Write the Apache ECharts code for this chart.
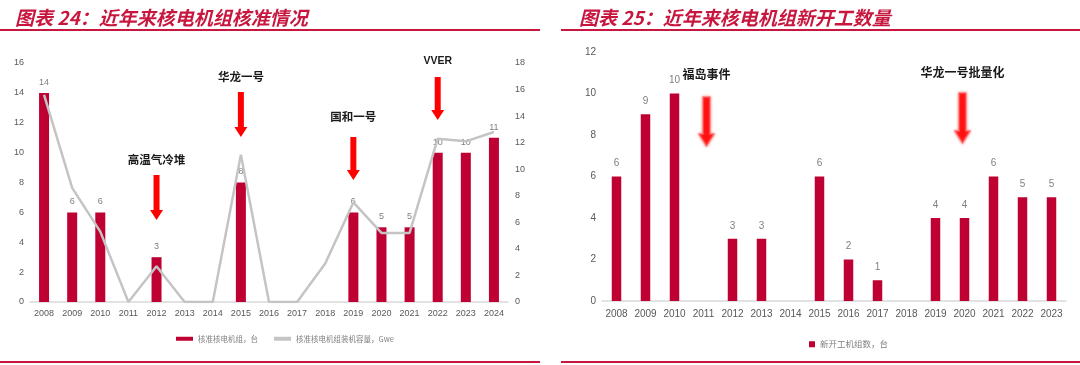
<!DOCTYPE html>
<html>
<head>
<meta charset="utf-8">
<script src="https://cdn.jsdelivr.net/npm/echarts@6/dist/echarts.min.js"></script>
<style>
html,body{margin:0;padding:0;background:#fff;}
#c{width:1080px;height:365px;}
</style>
</head>
<body>
<div id="c"></div>
<script>
// ---- data ----
const yearsApproved = ['2008','2009','2010','2011','2012','2013','2014','2015','2016','2017','2018','2019','2020','2021','2022','2023','2024'];
const approvedUnits = [14,6,6,0,3,0,0,8,0,0,0,6,5,5,10,10,11];
const approvedCapacity = [15.6,8.6,5.3,0,2.7,0,0,11.1,0,0,2.9,7.5,5.2,5.2,12.3,12.1,12.8];
const yearsStarts = ['2008','2009','2010','2011','2012','2013','2014','2015','2016','2017','2018','2019','2020','2021','2022','2023'];
const newStarts = [6,9,10,0,3,3,0,6,2,1,0,4,4,6,5,5];
const title1 = '图表 24：近年来核电机组核准情况';
const title2 = '图表 25：近年来核电机组新开工数量';
const legendBar1 = '核准核电机组，台';
const legendLine1 = '核准核电机组装机容量，Gwe';
const legendBar2 = '新开工机组数，台';
const notesLeftCats = ['2012','2015','2019','2022'];
const notesLeftTexts = ['高温气冷堆','华龙一号','国和一号','VVER'];
const notesRightCats = ['2011','2020'];
const notesRightTexts = ['福岛事件','华龙一号批量化'];

const RED = '#bf0033';
const TITLE_RED = '#c8173f';
const GRAY_TXT = '#595959';
const NARROW = '"Liberation Sans Narrow", "Liberation Sans", Arial, sans-serif';
const CJK = '"Noto Sans CJK SC", sans-serif';

const chart = echarts.init(document.getElementById('c'), null, {renderer:'canvas'});

const hideZero = p => (p.value ? String(p.value) : '');

const option = {
  animation: false,
  backgroundColor: '#fff',
  title: [
    {text: title1, left: 10, top: 3, textStyle:{color: TITLE_RED, fontSize: 19, fontWeight:'bold', fontStyle:'italic', fontFamily: CJK}},
    {text: title2, left: 574, top: 3, textStyle:{color: TITLE_RED, fontSize: 19, fontWeight:'bold', fontStyle:'italic', fontFamily: CJK}}
  ],
  legend: [
    {data:[{name: legendBar1, icon:'rect', itemStyle:{color:RED}}, {name: legendLine1, icon:'rect', itemStyle:{color:'#c4c4c4'}}],
     left: 171, top: 330, itemWidth: 17, itemHeight: 4, itemGap: 16,
     textStyle:{color:'#7f7f7f', fontSize: 7.5, fontFamily: CJK}},
    {data:[{name: legendBar2, icon:'rect', itemStyle:{color:RED}}],
     left: 804, top: 335, itemWidth: 6, itemHeight: 6, itemGap: 4,
     textStyle:{color:'#7f7f7f', fontSize: 8.5, fontFamily: CJK}}
  ],
  grid: [
    {left: 30, top: 63, width: 478, height: 239},
    {left: 602, top: 52, width: 464, height: 249}
  ],
  xAxis: [
    {type:'category', gridIndex:0, data: yearsApproved,
     axisLine:{lineStyle:{color:'#d9d9d9', width:1.5}}, axisTick:{show:false},
     axisLabel:{interval:0, color: GRAY_TXT, fontSize: 9, fontFamily: NARROW, margin: 7}},
    {type:'category', gridIndex:1, data: yearsStarts,
     axisLine:{lineStyle:{color:'#d9d9d9', width:1.5}}, axisTick:{show:false},
     axisLabel:{interval:0, color: GRAY_TXT, fontSize: 10, fontFamily: NARROW, margin: 8}}
  ],
  yAxis: [
    {type:'value', gridIndex:0, min:0, max:16, interval:2, splitLine:{show:false},
     axisLine:{show:false}, axisTick:{show:false},
     axisLabel:{color: GRAY_TXT, fontSize: 9, fontFamily: NARROW, margin: 6}},
    {type:'value', gridIndex:0, position:'right', min:0, max:18, interval:2, splitLine:{show:false},
     axisLine:{show:false}, axisTick:{show:false},
     axisLabel:{color: GRAY_TXT, fontSize: 9, fontFamily: NARROW, margin: 7}},
    {type:'value', gridIndex:1, min:0, max:12, interval:2, splitLine:{show:false},
     axisLine:{show:false}, axisTick:{show:false},
     axisLabel:{color: GRAY_TXT, fontSize: 10, fontFamily: NARROW, margin: 6}}
  ],
  series: [
    {name: legendBar1, type:'bar', xAxisIndex:0, yAxisIndex:0, data: approvedUnits, barWidth: 10,
     itemStyle:{color: RED},
     label:{show:true, position:'top', distance: 6, color:'#808080', fontSize: 9, fontFamily: NARROW, formatter: hideZero}},
    {name: legendLine1, type:'line', xAxisIndex:0, yAxisIndex:1, data: approvedCapacity,
     symbol:'none', lineStyle:{color:'#c4c4c4', width: 2.5}, itemStyle:{color:'#c4c4c4'}, z: 3},
    {name: legendBar2, type:'bar', xAxisIndex:1, yAxisIndex:2, data: newStarts, barWidth: 9.5,
     itemStyle:{color: RED},
     label:{show:true, position:'top', distance: 8, color:'#808080', fontSize: 10, fontFamily: NARROW, formatter: hideZero}}
  ]
};
chart.setOption(option);

function arrow(cx, top, tip, sw, hw, hh, glow) {
  const pts = [[cx-sw/2, top],[cx+sw/2, top],[cx+sw/2, tip-hh],[cx+hw/2, tip-hh],[cx, tip],[cx-hw/2, tip-hh],[cx-sw/2, tip-hh]];
  const el = {type:'polygon', shape:{points: pts}, style:{fill:'#ff0000'}, z: 50};
  if (glow) {
    el.style = {fill:'#ff1010', stroke:'rgba(255,110,110,0.7)', lineWidth: 1.5, shadowBlur: 3, shadowColor:'rgba(255,80,80,0.8)'};
  }
  return el;
}
function note(cx, cy, text, size, family) {
  return {type:'text', x: cx, y: cy, z: 50,
    style:{text: text, fill:'#1a1a1a', fontSize: size, fontWeight:'bold', fontFamily: family, align:'center', verticalAlign:'middle'}};
}

// layout of annotations (pixel rows)
const leftRows = [
  {textY:160, top:175, tip:220},
  {textY:77, top:92, tip:137},
  {textY:117, top:137, tip:180},
  {textY:61, top:77, tip:120}
];
const rightRows = [
  {textY:74, top:97, tip:146, dx:3},
  {textY:72, top:93, tip:143, dx:-2}
];

const g = [];
// separator lines
g.push({type:'line', shape:{x1:0, y1:30, x2:540, y2:30}, style:{stroke:TITLE_RED, lineWidth:2}});
g.push({type:'line', shape:{x1:0, y1:362, x2:540, y2:362}, style:{stroke:TITLE_RED, lineWidth:2}});
g.push({type:'line', shape:{x1:561, y1:30, x2:1080, y2:30}, style:{stroke:TITLE_RED, lineWidth:2}});
g.push({type:'line', shape:{x1:561, y1:362, x2:1080, y2:362}, style:{stroke:TITLE_RED, lineWidth:2}});

notesLeftCats.forEach((cat, i) => {
  const cx = chart.convertToPixel({xAxisIndex:0}, cat);
  const r = leftRows[i];
  const isLatin = /^[A-Za-z]+$/.test(notesLeftTexts[i]);
  g.push(note(cx, r.textY, notesLeftTexts[i], isLatin ? 10.5 : 11.5, isLatin ? NARROW : CJK));
  g.push(arrow(cx, r.top, r.tip, 6, 13, 10, false));
});
notesRightCats.forEach((cat, i) => {
  const cx = chart.convertToPixel({xAxisIndex:1}, cat) + rightRows[i].dx;
  const r = rightRows[i];
  g.push(note(cx, r.textY, notesRightTexts[i], 12, CJK));
  g.push(arrow(cx, r.top, r.tip, 7, 15, 12, true));
});
chart.setOption({graphic: g});
</script>
</body>
</html>
